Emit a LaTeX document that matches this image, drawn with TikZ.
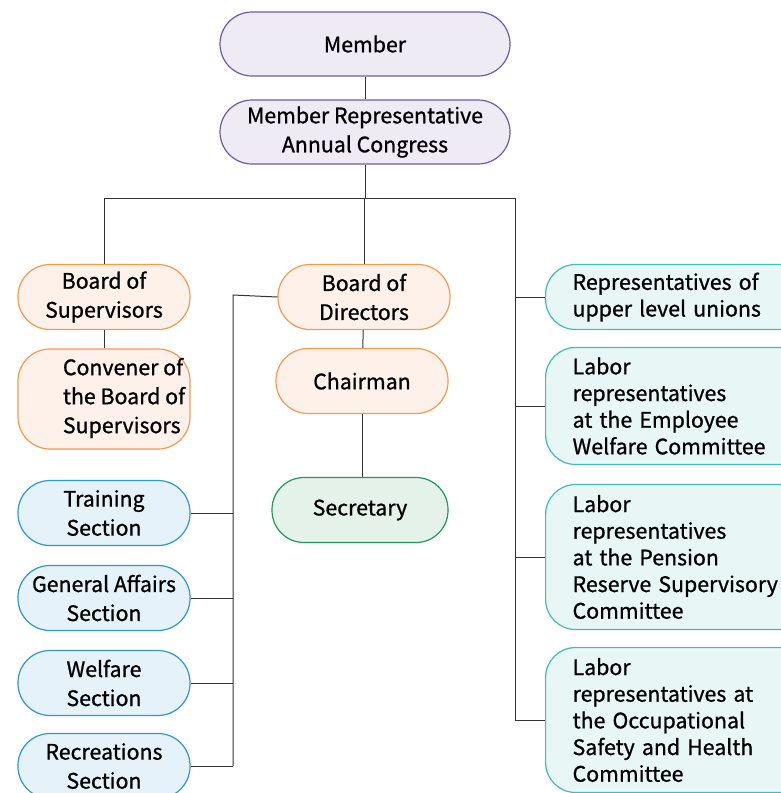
\documentclass[tikz,border=0pt]{standalone}
\usepackage{fontspec}
\setmainfont{Noto Sans CJK TC}[FakeBold=0.9]
\definecolor{memberline}{HTML}{6D5BA8}
\definecolor{memberfill}{HTML}{EFEBF5}
\definecolor{boardline}{HTML}{F59A50}
\definecolor{boardfill}{HTML}{FDF1EA}
\definecolor{secline}{HTML}{1E9A5A}
\definecolor{secfill}{HTML}{E4F2EA}
\definecolor{sectionline}{HTML}{2E98CF}
\definecolor{sectionfill}{HTML}{E5F2F9}
\definecolor{repline}{HTML}{40BDB5}
\definecolor{repfill}{HTML}{E8F6F6}
\begin{document}
\begin{tikzpicture}[x=0.75pt, y=-0.75pt,
    every node/.style={font=\fontsize{16}{21.75}\selectfont},
    pill/.style={draw, line width=0.9pt, rounded corners=24pt, align=center, inner sep=0pt},
    memberbox/.style={pill, draw=memberline, fill=memberfill, minimum width=217.5pt, minimum height=48pt},
    boardbox/.style={pill, draw=boardline, fill=boardfill, minimum width=129pt, minimum height=48.75pt},
    secbox/.style={pill, draw=secline, fill=secfill, minimum width=132pt, minimum height=48.75pt},
    sectionbox/.style={pill, draw=sectionline, fill=sectionfill, minimum width=129pt, minimum height=48.75pt},
    repbox/.style={draw=repline, fill=repfill, line width=0.9pt, rounded corners=22.5pt, align=left,
        anchor=west, inner xsep=20.25pt, inner ysep=0pt, text width=157.5pt,
        font=\fontsize{16}{20}\selectfont},
    link/.style={draw=black!80, line width=0.75pt}]
    \clip (0,0) rectangle (781,793);
    \fill[white] (0,0) rectangle (781,793);

    % Nodes
    \node[memberbox] (member) at (365, 44) {Member};
    \node[memberbox] (congress) at (365, 132) {Member Representative\\Annual Congress};

    \node[boardbox] (supervisors) at (104, 297) {Board of\\Supervisors};
    \node[boardbox, minimum height=75pt] (convener) at (104, 399) {};
    \node[align=left, inner sep=0pt] (convenertext) at (124, 398) {Convener of\\the Board of\\Supervisors};

    \node[boardbox] (directors) at (364, 297) {Board of\\Directors};
    \node[boardbox] (chairman) at (362, 381) {Chairman};
    \node[secbox] (secretary) at (360, 510) {Secretary};

    \node[sectionbox] (training) at (104, 513) {Training\\Section};
    \node[sectionbox] (general) at (104, 598) {General Affairs\\Section};
    \node[sectionbox] (welfare) at (104, 683) {Welfare\\Section};
    \node[sectionbox] (recreation) at (104, 766) {Recreations\\Section};

    \node[repbox, minimum height=48.75pt] (upper) at (545, 297) {Representatives of\\upper level unions};
    \node[repbox, minimum height=87.75pt] (employee) at (545, 406) {Labor\\representatives\\at the Employee\\Welfare Committee};
    \node[repbox, minimum height=108.75pt] (pension) at (545, 557) {Labor\\representatives\\at the Pension\\Reserve Supervisory\\Committee};
    \node[repbox, minimum height=108.75pt] (safety) at (545, 720) {Labor\\representatives at\\the Occupational\\Safety and Health\\Committee};

    % Bus points
    \coordinate (busleft) at (104, 198);
    \coordinate (busright) at (515, 198);
    \coordinate (sectionbus) at (233, 295);

    % Lines
    \draw[link] (member) -- (congress);
    \draw[link] (congress.south) -- (congress.south |- busleft);
    \draw[link] (busleft) -- (busright);
    \draw[link] (busleft) -- (supervisors);
    \draw[link] (directors.north |- busleft) -- (directors);
    \draw[link] (supervisors) -- (convener);
    \draw[link] (directors) -- (chairman);
    \draw[link] (chairman) -- (secretary.north -| chairman);

    \draw[link] (directors.west) -- (sectionbus) -- (sectionbus |- recreation.east);
    \draw[link] (training.east) -- (training.east -| sectionbus);
    \draw[link] (general.east) -- (general.east -| sectionbus);
    \draw[link] (welfare.east) -- (welfare.east -| sectionbus);
    \draw[link] (recreation.east) -- (recreation.east -| sectionbus);

    \draw[link] (busright) -- (busright |- safety.west);
    \draw[link] (busright |- upper.west) -- (upper.west);
    \draw[link] (busright |- employee.west) -- (employee.west);
    \draw[link] (busright |- pension.west) -- (pension.west);
    \draw[link] (busright |- safety.west) -- (safety.west);
\end{tikzpicture}
\end{document}
